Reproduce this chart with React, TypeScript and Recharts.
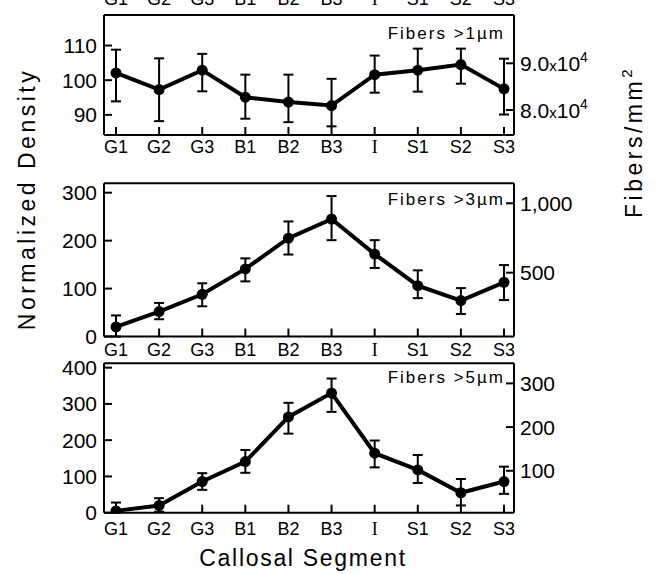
import React from 'react';
import { LineChart, Line, XAxis, YAxis, ErrorBar } from 'recharts';

// ---------- data ----------
const segments = ['G1', 'G2', 'G3', 'B1', 'B2', 'B3', 'I', 'S1', 'S2', 'S3'];

// Fibers > 1 µm (normalized density)
const mean1 = [102.1, 97.3, 102.9, 95.1, 93.7, 92.7, 101.6, 102.9, 104.5, 97.5];
const low1 = [93.9, 88.2, 96.8, 88.9, 87.9, 86.7, 96.4, 96.7, 99.0, 90.1];
const high1 = [108.8, 106.3, 107.6, 101.6, 101.6, 100.4, 107.1, 109.1, 109.1, 106.2];

// Fibers > 3 µm
const mean2 = [20, 52, 88, 141, 205, 245, 172, 106, 75, 113];
const low2 = [0, 36, 63, 115, 171, 201, 143, 80, 47, 76];
const high2 = [44, 70, 111, 163, 240, 293, 201, 138, 101, 149];

// Fibers > 5 µm
const mean3 = [5, 20, 86, 141, 264, 330, 164, 118, 55, 86];
const low3 = [0, 3, 63, 110, 218, 278, 125, 82, 20, 52];
const high3 = [28, 40, 109, 173, 303, 370, 199, 159, 93, 127];

const leftTicks1 = [90, 100, 110];
const rightTicks1 = [80000, 90000];
const leftTicks2 = [0, 100, 200, 300];
const rightTicks2 = [500, 1000];
const leftTicks3 = [0, 100, 200, 300, 400];
const rightTicks3 = [100, 200, 300];

const panelLabels = ['Fibers >1\u00b5m', 'Fibers >3\u00b5m', 'Fibers >5\u00b5m'];
const yTitle = 'Normalized Density';
const yRightTitle = 'Fibers/mm';
const xTitle = 'Callosal Segment';

function buildRows(mean: number[], low: number[], high: number[]) {
  return segments.map((s, i) => ({
    seg: s,
    v: mean[i],
    err: [mean[i] - low[i], high[i] - mean[i]],
  }));
}

const rows1 = buildRows(mean1, low1, high1);
const rows2 = buildRows(mean2, low2, high2);
const rows3 = buildRows(mean3, low3, high3);

// ---------- styling ----------
const FONT = '"Liberation Sans", Arial, sans-serif';
const INK = '#000';

const LeftTick = (props: any) => {
  const { x, y, payload } = props;
  return (
    <g>
      <line x1={x} x2={x + 8} y1={y} y2={y} stroke={INK} strokeWidth={2} />
      <text x={x - 7} y={y} dy="0.36em" textAnchor="end" fontSize={21} fontFamily={FONT} fill={INK}>
        {payload.value}
      </text>
    </g>
  );
};

const makeRightTick = (fmt: 'exp' | 'comma' | 'plain') => (props: any) => {
  const { x, y, payload } = props;
  const v = payload.value as number;
  let content: any;
  if (fmt === 'exp') {
    const m = (v / 10000).toFixed(1);
    content = (
      <>
        <tspan>{m}</tspan>
        <tspan fontSize={15}>x</tspan>
        <tspan>10</tspan>
        <tspan dy={-9} fontSize={14}>4</tspan>
      </>
    );
  } else if (fmt === 'comma') {
    content = v.toLocaleString('en-US');
  } else {
    content = String(v);
  }
  return (
    <g>
      <line x1={x - 8} x2={x} y1={y} y2={y} stroke={INK} strokeWidth={2} />
      <text x={x + 6} y={y} dy="0.36em" textAnchor="start" fontSize={21} fontFamily={FONT} fill={INK}>
        {content}
      </text>
    </g>
  );
};

const makeBottomTick = (labelOffset: number) => (props: any) => {
  const { x, y, payload } = props;
  const isI = payload.value === 'I';
  return (
    <g>
      <line x1={x} x2={x} y1={y} y2={y - 8} stroke={INK} strokeWidth={2} />
      <text
        x={x}
        y={y + labelOffset}
        dy="0.36em"
        textAnchor="middle"
        fontSize={18}
        fontFamily={isI ? '"Liberation Serif", serif' : FONT}
        fill={INK}
      >
        {payload.value}
      </text>
    </g>
  );
};

const TopClippedTick = (props: any) => {
  const { x, y, payload } = props;
  const isI = payload.value === 'I';
  return (
    <text
      x={x}
      y={y - 10}
      textAnchor="middle"
      fontSize={18}
      fontFamily={isI ? '"Liberation Serif", serif' : FONT}
      fill={INK}
    >
      {payload.value}
    </text>
  );
};

const NoTick = () => <g />;

type PanelProps = {
  rows: any[];
  top: number;
  height: number;
  topAxisH: number;
  bottomAxisH: number;
  leftDomain: [number, number];
  rightDomain: [number, number];
  leftTicks: number[];
  rightTicks: number[];
  rightFmt: 'exp' | 'comma' | 'plain';
  labelOffset: number;
  showTopLabels?: boolean;
};

function Panel(p: PanelProps) {
  const axisLine = { stroke: INK, strokeWidth: 2 };
  return (
    <div style={{ position: 'absolute', left: 0, top: p.top, width: 658, height: p.height }}>
      <LineChart
        width={658}
        height={p.height}
        data={p.rows}
        margin={{ top: 0, right: 44, bottom: 0, left: 44 }}
      >
        <XAxis
          xAxisId="top"
          orientation="top"
          dataKey="seg"
          type="category"
          height={p.topAxisH}
          padding={{ left: 12, right: 10 }}
          axisLine={axisLine}
          tickLine={false}
          tickSize={0}
          tickMargin={0}
          interval={0}
          tick={p.showTopLabels ? TopClippedTick : NoTick}
        />
        <XAxis
          xAxisId="bottom"
          orientation="bottom"
          dataKey="seg"
          type="category"
          height={p.bottomAxisH}
          padding={{ left: 12, right: 10 }}
          axisLine={axisLine}
          tickLine={false}
          tickSize={0}
          tickMargin={0}
          interval={0}
          tick={makeBottomTick(p.labelOffset)}
        />
        <YAxis
          yAxisId="left"
          orientation="left"
          type="number"
          width={60}
          domain={p.leftDomain}
          ticks={p.leftTicks}
          allowDataOverflow
          interval={0}
          axisLine={axisLine}
          tickLine={false}
          tickSize={0}
          tickMargin={0}
          tick={LeftTick}
        />
        <YAxis
          yAxisId="right"
          orientation="right"
          type="number"
          width={100}
          domain={p.rightDomain}
          ticks={p.rightTicks}
          allowDataOverflow
          interval={0}
          axisLine={axisLine}
          tickLine={false}
          tickSize={0}
          tickMargin={0}
          tick={makeRightTick(p.rightFmt)}
        />
        <Line
          xAxisId="bottom"
          yAxisId="left"
          dataKey="v"
          stroke={INK}
          strokeWidth={4}
          dot={{ r: 5.5, fill: INK, stroke: INK, strokeWidth: 0 }}
          activeDot={false}
          isAnimationActive={false}
        >
          <ErrorBar dataKey="err" direction="y" width={5} stroke={INK} strokeWidth={2} isAnimationActive={false} />
        </Line>
      </LineChart>
    </div>
  );
}

export default function App() {
  return (
    <div style={{ position: 'absolute', left: 0, top: 0, width: 658, height: 574, background: '#fff', overflow: 'hidden' }}>
      <Panel
        rows={rows1}
        top={0}
        height={160}
        topAxisH={15}
        bottomAxisH={25}
        leftDomain={[84.2, 118.8]}
        rightDomain={[74650, 100340]}
        leftTicks={leftTicks1}
        rightTicks={rightTicks1}
        rightFmt="exp"
        labelOffset={12}
        showTopLabels
      />
      <Panel
        rows={rows2}
        top={160}
        height={200}
        topAxisH={23.3}
        bottomAxisH={23.5}
        leftDomain={[0, 319.6]}
        rightDomain={[40, 1144]}
        leftTicks={leftTicks2}
        rightTicks={rightTicks2}
        rightFmt="comma"
        labelOffset={13.5}
      />
      <Panel
        rows={rows3}
        top={360}
        height={214}
        topAxisH={3.3}
        bottomAxisH={61.3}
        leftDomain={[0, 412]}
        rightDomain={[4, 346]}
        leftTicks={leftTicks3}
        rightTicks={rightTicks3}
        rightFmt="plain"
        labelOffset={15.7}
      />
      <svg
        width={658}
        height={574}
        style={{ position: 'absolute', left: 0, top: 0, pointerEvents: 'none' }}
      >
        <text x={505} y={33} dy="0.36em" textAnchor="end" fontSize={17} letterSpacing={2} fontFamily={FONT} fill={INK}>
          {panelLabels[0]}
        </text>
        <text x={505} y={199} dy="0.36em" textAnchor="end" fontSize={17} letterSpacing={2} fontFamily={FONT} fill={INK}>
          {panelLabels[1]}
        </text>
        <text x={505} y={377} dy="0.36em" textAnchor="end" fontSize={17} letterSpacing={2} fontFamily={FONT} fill={INK}>
          {panelLabels[2]}
        </text>
        <text
          x={0}
          y={0}
          transform="translate(27,199) rotate(-90)"
          dy="0.36em"
          textAnchor="middle"
          fontSize={23}
          letterSpacing={3.5}
          fontFamily={FONT}
          fill={INK}
        >
          {yTitle}
        </text>
        <text
          x={0}
          y={0}
          transform="translate(634,142) rotate(-90)"
          dy="0.36em"
          textAnchor="middle"
          fontSize={23}
          letterSpacing={3.5}
          fontFamily={FONT}
          fill={INK}
        >
          {yRightTitle}
          <tspan dy={-10} fontSize={15}>2</tspan>
        </text>
        <text x={303} y={558} dy="0.36em" textAnchor="middle" fontSize={23} letterSpacing={1.7} fontFamily={FONT} fill={INK}>
          {xTitle}
        </text>
      </svg>
    </div>
  );
}
